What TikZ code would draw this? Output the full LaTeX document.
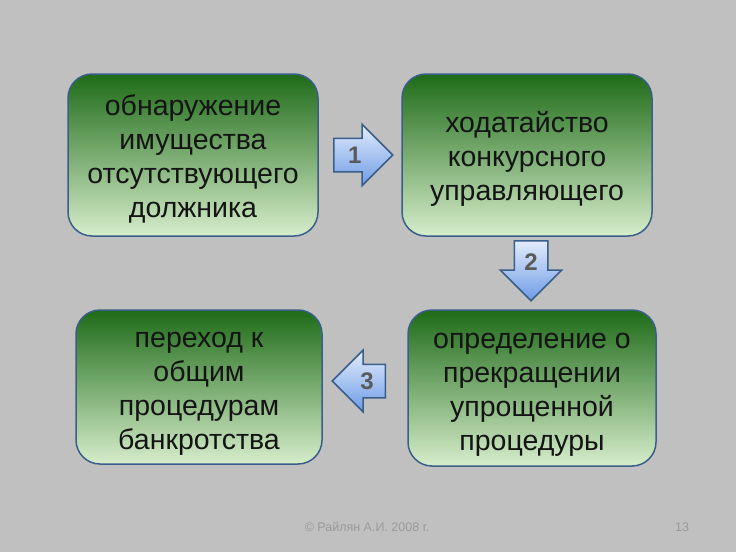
\documentclass[tikz,border=0pt]{standalone}
\usepackage{fontspec}
\setmainfont{Liberation Sans}
\usetikzlibrary{shapes.arrows}

\definecolor{slidebg}{HTML}{C0C0C0}
\definecolor{boxedge}{HTML}{3A5E8A}
\definecolor{greentop}{HTML}{1E6B18}
\definecolor{greenbot}{HTML}{D6EDCB}
\definecolor{arrowtop}{HTML}{E2EDFC}
\definecolor{arrowbot}{HTML}{6E9BE6}
\definecolor{numgray}{HTML}{5A5A5A}
\definecolor{footgray}{HTML}{9A9A9A}

% same top and bottom room for every box text
\newcommand{\boxstrut}{\rule[-6pt]{0pt}{34pt}}

\begin{document}
\begin{tikzpicture}
      [x = 1pt, y = -1pt,
      stagebox/.style= {
         draw = boxedge,
         line width = 1.5pt,
         rounded corners = 24pt,
         top color = greentop,
         bottom color = greenbot,
         align = center,
         text = black!92,
         font = \fontsize{28.5}{34}\selectfont
      },
      steparrow/.style= {
         single arrow,
         draw = boxedge,
         line width = 1.5pt,
         top color = arrowtop,
         bottom color = arrowbot,
         text = numgray,
         font = \bfseries\fontsize{24}{24}\selectfont,
         text width = 17pt,
         align = center,
         text height = 17pt,
         text depth = 0pt,
         inner sep = 7.5pt,
         single arrow tip angle = 90,
         single arrow head extend = 14pt
      },
      footer/.style= {
         text = footgray,
         font = \fontsize{12.5}{14}\selectfont
      }]

      \fill[slidebg] (0, 0) rectangle (736, 552);
      \useasboundingbox (0, 0) rectangle (736, 552);

      % stages
      \node[stagebox, minimum width = 250pt, minimum height = 162pt]
         (find) at (193, 155)
         {\boxstrut обнаружение\\имущества\\отсутствующего\\должника\boxstrut};
      \node[stagebox, minimum width = 250pt, minimum height = 162pt]
         (petition) at (527, 155)
         {\boxstrut ходатайство\\конкурсного\\управляющего\boxstrut};
      \node[stagebox, minimum width = 248pt, minimum height = 156pt]
         (ruling) at (532, 388)
         {\boxstrut определение о\\прекращении\\упрощенной\\процедуры\boxstrut};
      \node[stagebox, minimum width = 246pt, minimum height = 154pt]
         (general) at (199, 387)
         {\boxstrut переход к\\общим\\процедурам\\банкротства\boxstrut};

      % numbered arrows
      \node[steparrow, minimum height = 59pt, anchor = tail]
         (step1) at (333, 155) {1};
      \node[steparrow, minimum height = 60pt, shape border rotate = 270,
         anchor = tail] (step2) at (531, 240) {2};
      \node[steparrow, minimum height = 53pt, shape border rotate = 180,
         anchor = tail] (step3) at (386, 381) {3};

      \node[footer] (copy) at (367, 527) {© Райлян А.И. 2008 г.};
      \node[footer] (page) at (682, 527) {13};

\end{tikzpicture}
\end{document}
